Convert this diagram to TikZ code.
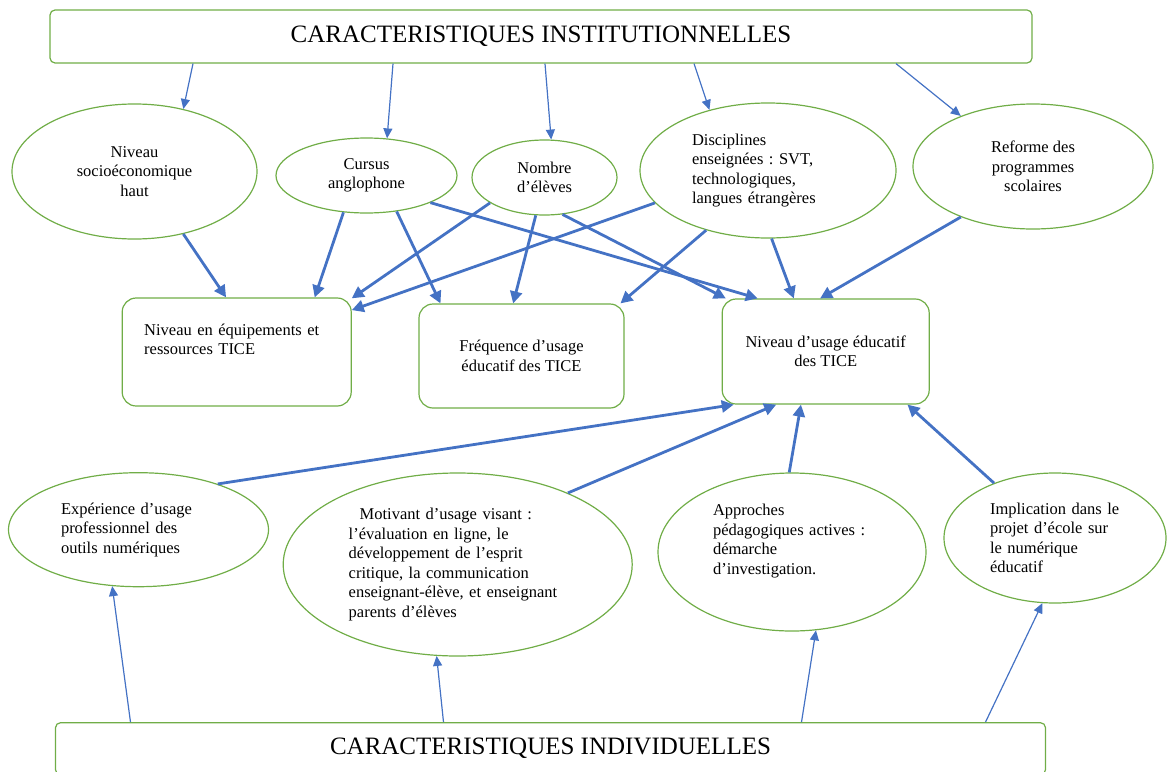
\documentclass[tikz,border=0pt]{standalone}
\usepackage{fontspec}
\setmainfont{Liberation Serif}
\usetikzlibrary{shapes.geometric,arrows.meta}
\definecolor{vert}{HTML}{70AD47}
\definecolor{bleu}{HTML}{4472C4}
\frenchspacing

\begin{document}
\begin{tikzpicture}[x=1pt,y=-1pt,
        ovale/.style={ellipse,draw=vert,line width=1.2pt,inner sep=0pt,font=\fontsize{16.5}{19.5}\selectfont},
        boite/.style={rectangle,rounded corners=14pt,draw=vert,line width=1.2pt,inner sep=0pt,font=\fontsize{16.5}{19.5}\selectfont},
        titre/.style={rectangle,rounded corners=5pt,draw=vert,line width=1.2pt,font=\fontsize{25}{30}\selectfont},
        fine/.style={bleu,line width=1.2pt,-{Triangle[length=10pt,width=9pt]}},
        epaisse/.style={bleu,line width=2.8pt,-{Triangle[length=12pt,width=12pt]}}]
        \useasboundingbox (0,0) rectangle (1167,771);
        \clip (0,0) rectangle (1167,771);
        % les deux grands cadres
        \node[titre,minimum width=982pt,minimum height=53pt] (inst) at (541,36.5) {CARACTERISTIQUES INSTITUTIONNELLES};
        \node[titre,minimum width=990pt,minimum height=52pt] (indiv) at (550.5,748.7) {CARACTERISTIQUES INDIVIDUELLES};
        % caracteristiques institutionnelles
        \node[ovale,minimum width=245pt,minimum height=135pt,align=center] (socio) at (134.5,171.5) {Niveau\\socioéconomique\\haut};
        \node[ovale,minimum width=181pt,minimum height=75pt,align=center] (cursus) at (366.5,175.5) {Cursus\\anglophone};
        \node[ovale,minimum width=145pt,minimum height=75pt,align=center] (nombre) at (544.5,177.5) {Nombre\\d’élèves};
        \node[ovale,minimum width=256pt,minimum height=135pt,text width=152pt,align=left] (discip) at (768,170.5) {Disciplines\\enseignées : SVT,\\technologiques,\\langues étrangères};
        \node[ovale,minimum width=240pt,minimum height=125pt,align=center] (reforme) at (1033,166.5) {Reforme des\\programmes\\scolaires};
        % niveaux et frequence
        \node[boite,minimum width=229pt,minimum height=108pt,text width=185pt,align=left] (equip) at (236.7,352) {Niveau en équipements et\\ressources TICE\\ \strut};
        \node[boite,minimum width=205pt,minimum height=104pt,align=center] (freq) at (521.5,356) {Fréquence d’usage\\éducatif des TICE};
        \node[boite,minimum width=207pt,minimum height=105pt,align=center] (usage) at (825.7,351.5) {Niveau d’usage éducatif\\des TICE};
        % caracteristiques individuelles
        \node[ovale,minimum width=260pt,minimum height=114pt,text width=155pt,align=left] (experience) at (138.5,529.7) {Expérience d’usage\\professionnel des\\outils numériques};
        \node[ovale,minimum width=349pt,minimum height=183pt,text width=218pt,align=left] (motivant) at (457.7,564.5) {\hspace*{11pt}Motivant d’usage visant :\\l’évaluation en ligne, le\\développement de l’esprit\\critique, la communication\\enseignant-élève, et enseignant\\parents d’élèves};
        \node[ovale,minimum width=268pt,minimum height=158pt,text width=158pt,align=left] (approches) at (792,552) {Approches\\pédagogiques actives :\\démarche\\d’investigation.\\ \strut};
        \node[ovale,minimum width=222pt,minimum height=130pt,text width=130pt,align=left] (implication) at (1055,538) {Implication dans le\\projet d’école sur\\le numérique\\éducatif};
        % fleches du cadre du haut
        \draw[fine] ([xshift=-348pt]inst.south) -- (socio.52);
        \draw[fine] ([xshift=-148pt]inst.south) -- (cursus.61);
        \draw[fine] ([xshift=4pt]inst.south) -- (nombre.80);
        \draw[fine] ([xshift=153pt]inst.south) -- (discip.134);
        \draw[fine] ([xshift=355pt]inst.south) -- (reforme.145);
        % vers les rectangles
        \draw[epaisse] (socio.308) -- (equip.101);
        \draw[epaisse] (cursus.238) -- (equip.35);
        \draw[epaisse] (nombre.205) -- (equip.25);
        \draw[epaisse] (discip.196) -- (equip.20);
        \draw[epaisse] (cursus.310) -- (freq.147);
        \draw[epaisse] (nombre.257) -- (freq.99);
        \draw[epaisse] (discip.224) -- (freq.28);
        \draw[epaisse] (cursus.337) -- (usage.142);
        \draw[epaisse] (nombre.296) -- (usage.152);
        \draw[epaisse] (discip.273) -- (usage.121);
        \draw[epaisse] (reforme.215) -- (usage.96);
        % du bas vers le niveau d'usage
        \draw[epaisse] (experience.30) -- (usage.210);
        \draw[epaisse] (motivant.33) -- (usage.227);
        \draw[epaisse] (approches.92) -- (usage.245);
        \draw[epaisse] (implication.138) -- (usage.327);
        % fleches du cadre du bas
        \draw[fine] ([xshift=-420pt]indiv.north) -- (experience.245);
        \draw[fine] ([xshift=-107pt]indiv.north) -- (motivant.257);
        \draw[fine] ([xshift=251pt]indiv.north) -- (approches.287);
        \draw[fine] ([xshift=435pt]indiv.north) -- (implication.259);
    \end{tikzpicture}
\end{document}
